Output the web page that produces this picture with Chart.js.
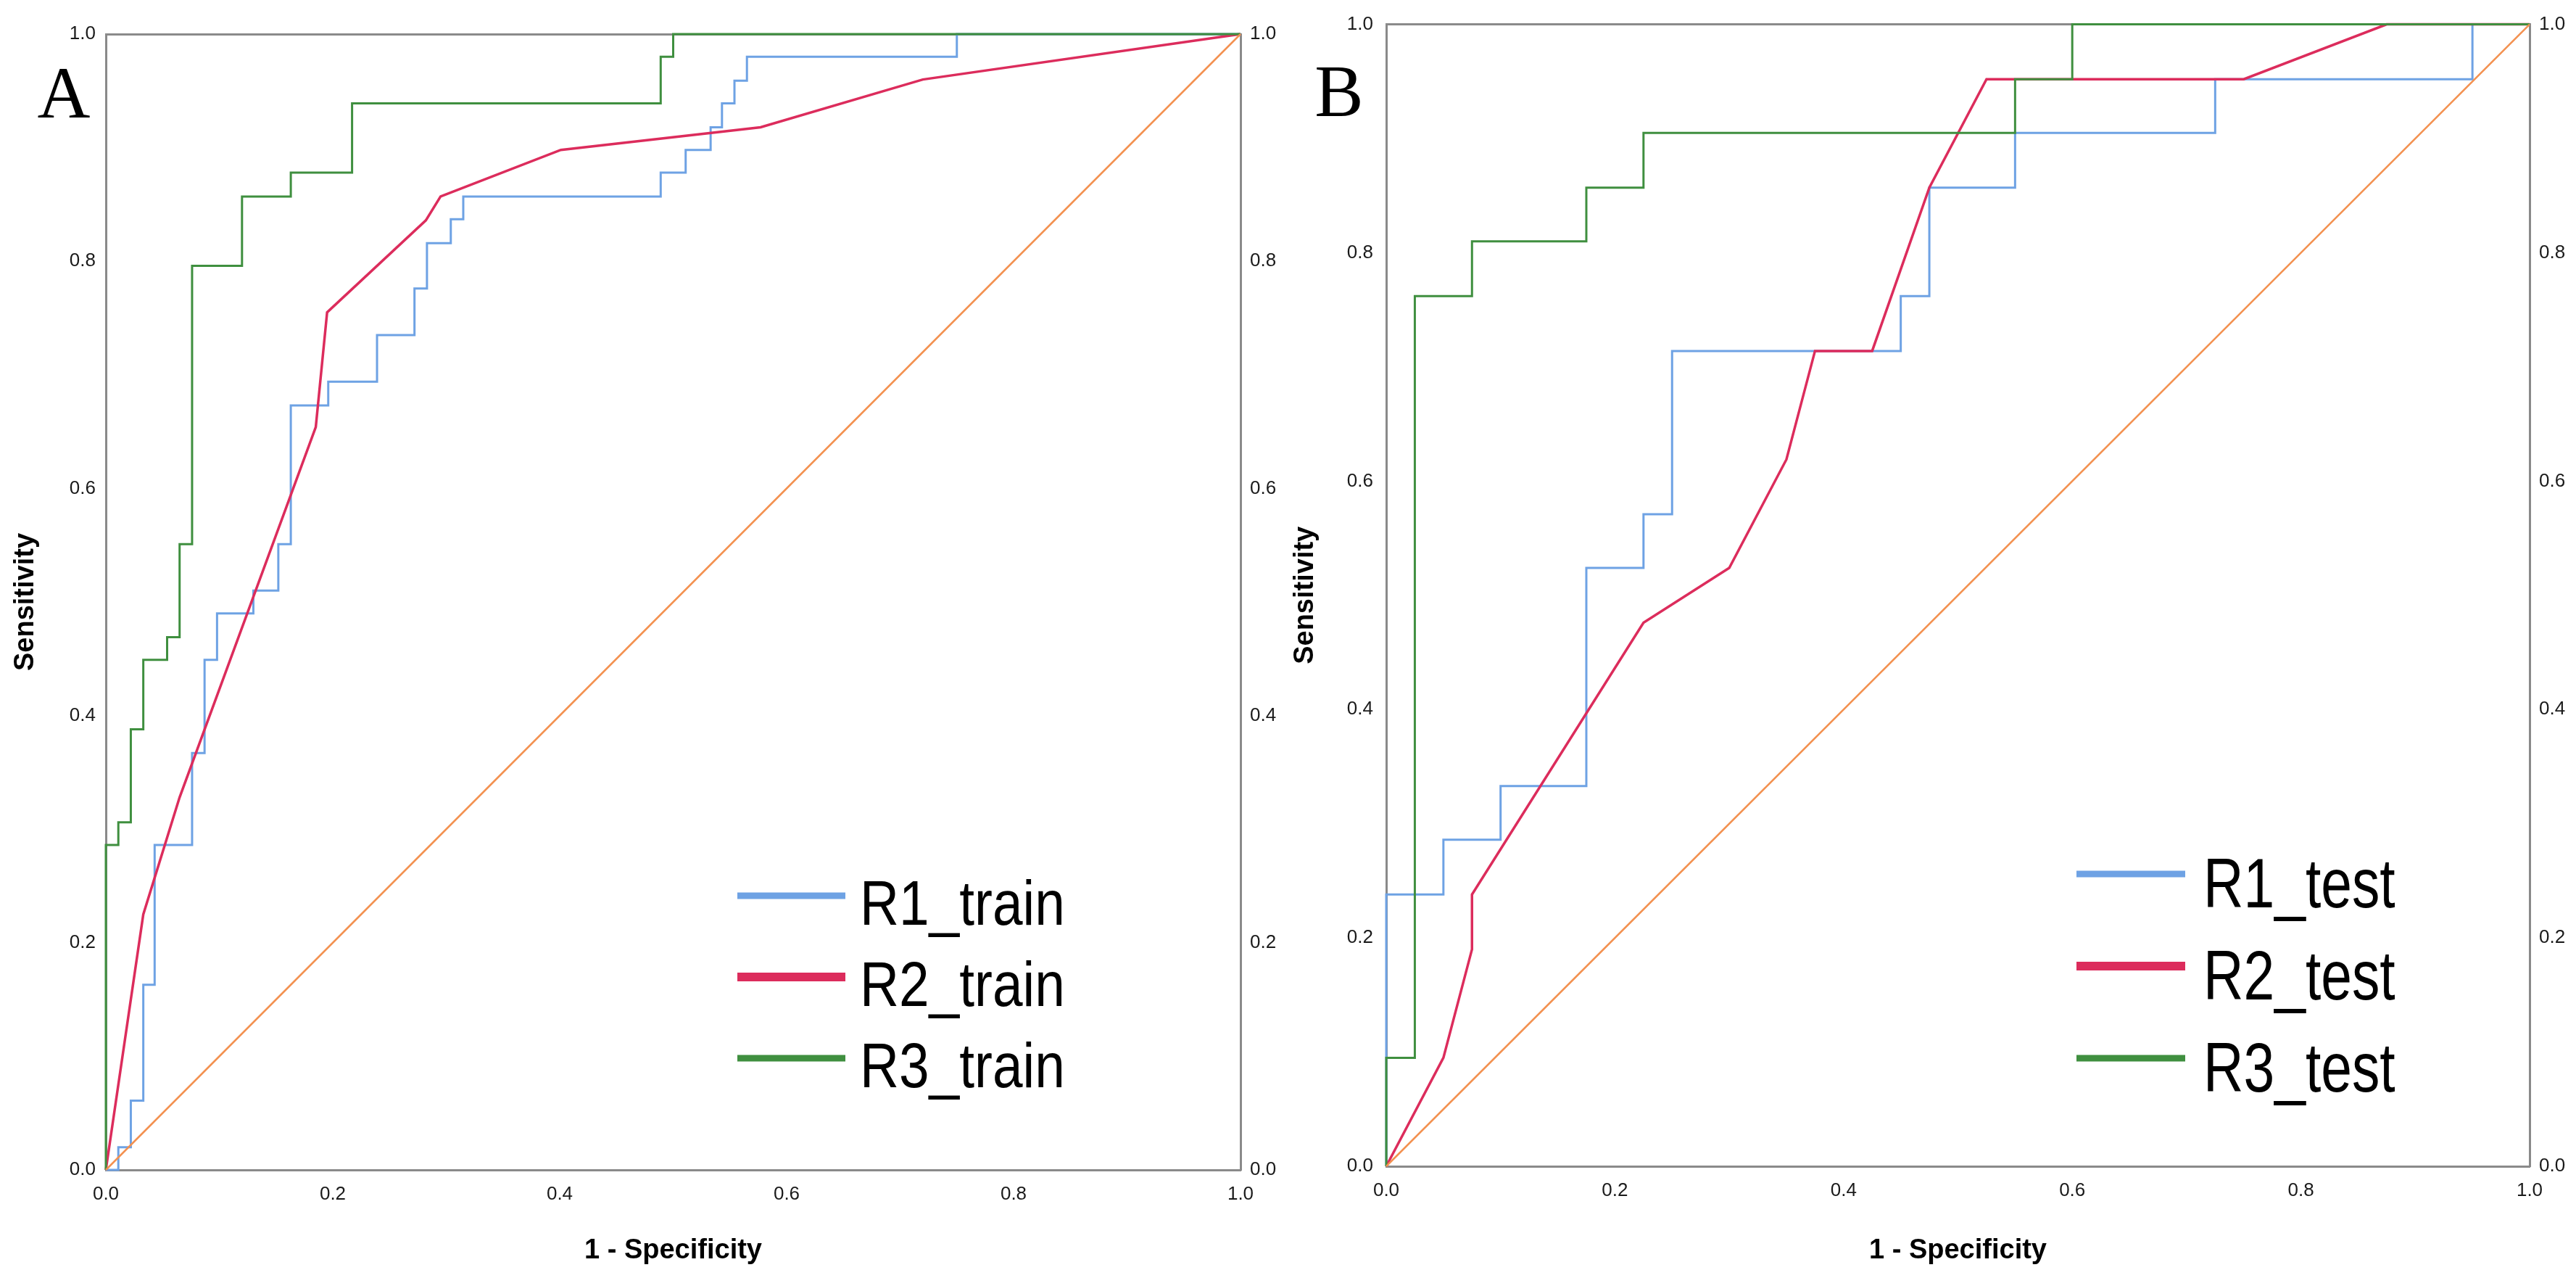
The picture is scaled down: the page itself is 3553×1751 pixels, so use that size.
<!DOCTYPE html>
<html lang="en">
<head>
<meta charset="UTF-8">
<title>ROC curves - train / test</title>
<script src="https://cdn.jsdelivr.net/npm/chart.js"></script>
<style>
  html, body { margin: 0; padding: 0; background: #fff; }
  #wrap { position: relative; width: 3553px; height: 1751px; background: #fff; }
  canvas { position: absolute; top: 0; }
  #rocA { left: 0; }
  #rocB { left: 1775px; }
</style>
</head>
<body>
<div id="wrap">
  <canvas id="rocA" width="1775" height="1751"></canvas>
  <canvas id="rocB" width="1778" height="1751"></canvas>
</div>
<script>
// tick labels (both axes, both panels)
const tickValues = [0, 0.2, 0.4, 0.6, 0.8, 1.0];
const seriesNames = ['R1', 'R2', 'R3'];

// panel A, training set (x = 1 - specificity, y = sensitivity)
const r1TrainX = [0, 0.011, 0.022, 0.033, 0.043, 0.076, 0.087, 0.098, 0.130, 0.152, 0.163, 0.196, 0.239, 0.272, 0.283, 0.304, 0.315, 0.489, 0.511, 0.533, 0.543, 0.554, 0.565, 0.750, 1.0];
const r1TrainY = [0, 0.020, 0.061, 0.163, 0.286, 0.367, 0.449, 0.490, 0.510, 0.551, 0.673, 0.694, 0.735, 0.776, 0.816, 0.837, 0.857, 0.878, 0.898, 0.918, 0.939, 0.959, 0.980, 1.0, 1.0];
const r2TrainX = [0, 0.033, 0.065, 0.185, 0.195, 0.282, 0.295, 0.401, 0.577, 0.720, 1.0];
const r2TrainY = [0, 0.225, 0.328, 0.654, 0.755, 0.836, 0.857, 0.898, 0.918, 0.960, 1.0];
const r3TrainX = [0, 0, 0.011, 0.022, 0.033, 0.054, 0.065, 0.076, 0.120, 0.163, 0.217, 0.489, 0.500, 1.0];
const r3TrainY = [0, 0.286, 0.306, 0.388, 0.449, 0.469, 0.551, 0.796, 0.857, 0.878, 0.939, 0.980, 1.0, 1.0];

// panel B, test set
const r1TestX = [0, 0, 0.050, 0.100, 0.175, 0.225, 0.250, 0.450, 0.475, 0.550, 0.725, 0.950, 1.0];
const r1TestY = [0, 0.238, 0.286, 0.333, 0.524, 0.571, 0.714, 0.762, 0.857, 0.905, 0.952, 1.0, 1.0];
const r2TestX = [0, 0.050, 0.075, 0.075, 0.225, 0.300, 0.350, 0.375, 0.425, 0.475, 0.525, 0.750, 0.875, 1.0];
const r2TestY = [0, 0.095, 0.190, 0.238, 0.476, 0.524, 0.619, 0.714, 0.714, 0.857, 0.952, 0.952, 1.0, 1.0];
const r3TestX = [0, 0, 0.025, 0.075, 0.175, 0.225, 0.550, 0.600, 1.0];
const r3TestY = [0, 0.095, 0.762, 0.810, 0.857, 0.905, 0.952, 1.0, 1.0];

// reference line
const refX = [0, 1];
const refY = [0, 1];

const SANS = "'Liberation Sans', Arial, sans-serif";
const SERIF = "'Liberation Serif', 'Times New Roman', serif";
const COLORS = { r1: '#6ea2e4', r2: '#dc2c5c', r3: '#3f8f3f', ref: '#f39150' };
const AXIS = '#8a8a8a';

function pts(xs, ys) {
  return xs.map((x, i) => ({ x: x, y: ys[i] }));
}

// panel letter + legend drawn inside the plot
const rocDecor = {
  id: 'rocDecor',
  afterDraw(chart, args, o) {
    const ctx = chart.ctx;
    ctx.save();
    ctx.fillStyle = '#000';
    ctx.textAlign = 'center';
    ctx.textBaseline = 'alphabetic';
    ctx.font = '101px ' + SERIF;
    ctx.fillText(o.letter, o.letterX, o.letterY);

    ctx.textAlign = 'left';
    ctx.font = o.fontSize + 'px ' + SANS;
    chart.data.datasets.forEach((ds, i) => {
      if (!ds.inLegend) return;
      const y = o.top + i * o.rowGap;
      ctx.strokeStyle = ds.borderColor;
      ctx.lineWidth = ds.legendWidth;
      ctx.beginPath();
      ctx.moveTo(o.lineX0, y);
      ctx.lineTo(o.lineX1, y);
      ctx.stroke();
      ctx.save();
      ctx.translate(o.textX, y + o.baseShift);
      ctx.scale(o.squeeze, 1);
      ctx.fillText(ds.label, 0, 0);
      ctx.restore();
    });
    ctx.restore();
  }
};

function makePanel(id, suffix, data, g) {
  const tickFont = { family: SANS, size: 26 };
  const titleFont = { family: SANS, size: 38, weight: 'bold' };
  const fixTicks = s => { s.ticks = tickValues.map(v => ({ value: v })); };
  const fmt = v => Number(v).toFixed(1);

  const datasets = [
    { label: seriesNames[0] + suffix, data: pts(data[0][0], data[0][1]), borderColor: COLORS.r1, borderWidth: 3, stepped: 'before', inLegend: true, legendWidth: 9, order: 4 },
    { label: seriesNames[1] + suffix, data: pts(data[1][0], data[1][1]), borderColor: COLORS.r2, borderWidth: 3.5, stepped: false, inLegend: true, legendWidth: 12, order: 3 },
    { label: seriesNames[2] + suffix, data: pts(data[2][0], data[2][1]), borderColor: COLORS.r3, borderWidth: 3, stepped: 'before', inLegend: true, legendWidth: 9, order: 2 },
    { label: 'Reference', data: pts(refX, refY), borderColor: COLORS.ref, borderWidth: 2.5, inLegend: false, order: 1 }
  ];
  datasets.forEach(d => { d.pointRadius = 0; d.fill = false; d.tension = 0; d.clip = 6; });

  return new Chart(document.getElementById(id), {
    type: 'line',
    data: { datasets: datasets },
    plugins: [rocDecor],
    options: {
      responsive: false,
      animation: false,
      devicePixelRatio: 1,
      layout: { padding: { top: g.top, left: 0, right: 0, bottom: 0 } },
      plugins: {
        legend: { display: false },
        tooltip: { enabled: false },
        rocDecor: g.decor
      },
      scales: {
        x: {
          type: 'linear', position: 'bottom', min: 0, max: 1,
          afterBuildTicks: fixTicks,
          ticks: { callback: fmt, padding: 18, color: '#1a1a1a', font: tickFont, maxRotation: 0 },
          grid: { display: false, drawTicks: false },
          border: { display: true, color: AXIS, width: 3 },
          title: { display: true, text: '1 - Specificity', color: '#000', font: titleFont, padding: { top: 0, bottom: 4 } },
          afterFit: s => { s.height = g.bottomH; }
        },
        xTop: {
          type: 'linear', position: 'top', min: 0, max: 1,
          ticks: { display: false },
          grid: { display: false, drawTicks: false },
          border: { display: true, color: AXIS, width: 3 },
          afterFit: s => { s.height = 0; }
        },
        y: {
          type: 'linear', position: 'left', min: 0, max: 1,
          afterBuildTicks: fixTicks,
          ticks: { callback: fmt, padding: g.leftPad, color: '#1a1a1a', font: tickFont },
          grid: { display: false, drawTicks: false },
          border: { display: true, color: AXIS, width: 3 },
          title: { display: true, text: 'Sensitivity', color: '#000', font: titleFont, padding: { top: g.titlePad, bottom: 0 } },
          afterFit: s => { s.width = g.leftW; }
        },
        yRight: {
          type: 'linear', position: 'right', min: 0, max: 1,
          afterBuildTicks: fixTicks,
          ticks: { callback: fmt, padding: 13, color: '#1a1a1a', font: tickFont },
          grid: { display: false, drawTicks: false },
          border: { display: true, color: AXIS, width: 3 },
          afterFit: s => { s.width = g.rightW; }
        }
      }
    }
  });
}

makePanel('rocA', '_train',
  [[r1TrainX, r1TrainY], [r2TrainX, r2TrainY], [r3TrainX, r3TrainY]],
  { top: 47, bottomH: 138, leftW: 146, rightW: 64, leftPad: 14, titlePad: 13,
    decor: { letter: 'A', letterX: 88, letterY: 162,
             top: 1235, rowGap: 112, lineX0: 1017, lineX1: 1166, textX: 1186,
             baseShift: 40, fontSize: 88, squeeze: 0.85 } });

makePanel('rocB', '_test',
  [[r1TestX, r1TestY], [r2TestX, r2TestY], [r3TestX, r3TestY]],
  { top: 32, bottomH: 143, leftW: 137, rightW: 64, leftPad: 18, titlePad: 3,
    decor: { letter: 'B', letterX: 72, letterY: 160,
             top: 1205, rowGap: 127, lineX0: 1089, lineX1: 1239, textX: 1264,
             baseShift: 46, fontSize: 96, squeeze: 0.80 } });
</script>
</body>
</html>
